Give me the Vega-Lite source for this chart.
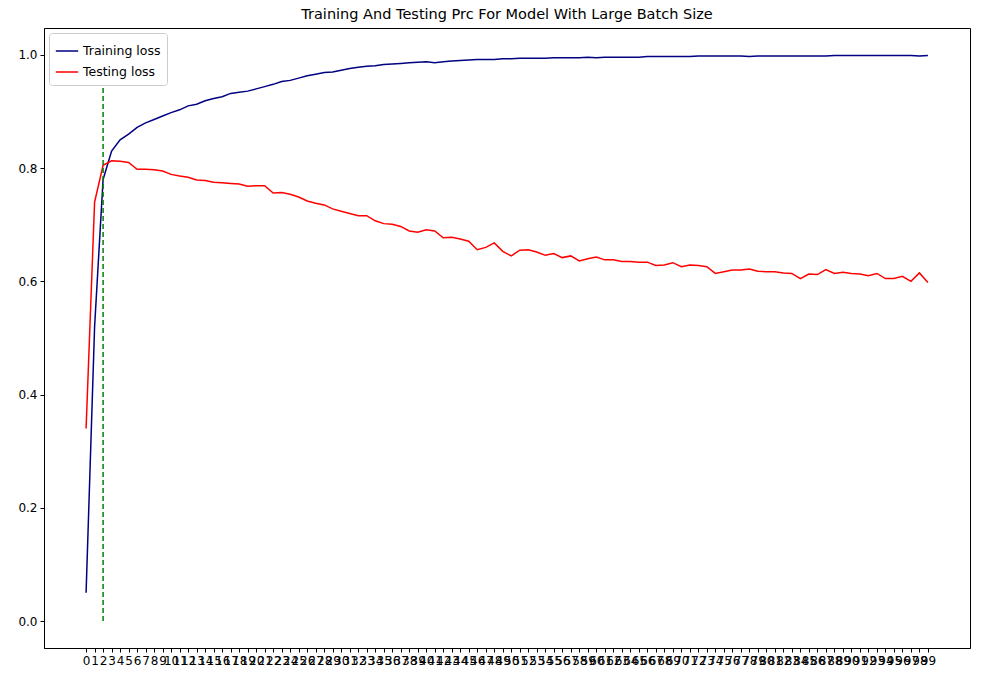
{
  "$schema": "https://vega.github.io/schema/vega-lite/v6.json",
  "width": 926,
  "height": 620,
  "autosize": "none",
  "padding": {"left": 44, "top": 28, "right": 11, "bottom": 32},
  "title": {"text": "Training And Testing Prc For Model With Large Batch Size", "font": "DejaVu Sans", "fontSize": 14.5, "fontWeight": "normal", "offset": 6},
  "datasets": {
    "rows": [
      {"epoch":0,"Training loss":0.05,"Testing loss":0.34},{"epoch":1,"Training loss":0.52,"Testing loss":0.74},{"epoch":2,"Training loss":0.78,"Testing loss":0.805},{"epoch":3,"Training loss":0.83,"Testing loss":0.813},{"epoch":4,"Training loss":0.85,"Testing loss":0.812},{"epoch":5,"Training loss":0.86,"Testing loss":0.81},{"epoch":6,"Training loss":0.872,"Testing loss":0.798},{"epoch":7,"Training loss":0.88,"Testing loss":0.798},{"epoch":8,"Training loss":0.886,"Testing loss":0.797},{"epoch":9,"Training loss":0.892,"Testing loss":0.795},
      {"epoch":10,"Training loss":0.898,"Testing loss":0.789},{"epoch":11,"Training loss":0.903,"Testing loss":0.786},{"epoch":12,"Training loss":0.91,"Testing loss":0.784},{"epoch":13,"Training loss":0.913,"Testing loss":0.779},{"epoch":14,"Training loss":0.919,"Testing loss":0.778},{"epoch":15,"Training loss":0.923,"Testing loss":0.775},{"epoch":16,"Training loss":0.926,"Testing loss":0.774},{"epoch":17,"Training loss":0.932,"Testing loss":0.773},{"epoch":18,"Training loss":0.934,"Testing loss":0.772},{"epoch":19,"Training loss":0.936,"Testing loss":0.768},
      {"epoch":20,"Training loss":0.94,"Testing loss":0.769},{"epoch":21,"Training loss":0.944,"Testing loss":0.769},{"epoch":22,"Training loss":0.948,"Testing loss":0.756},{"epoch":23,"Training loss":0.953,"Testing loss":0.757},{"epoch":24,"Training loss":0.955,"Testing loss":0.754},{"epoch":25,"Training loss":0.959,"Testing loss":0.749},{"epoch":26,"Training loss":0.963,"Testing loss":0.742},{"epoch":27,"Training loss":0.966,"Testing loss":0.738},{"epoch":28,"Training loss":0.969,"Testing loss":0.735},{"epoch":29,"Training loss":0.97,"Testing loss":0.728},
      {"epoch":30,"Training loss":0.973,"Testing loss":0.724},{"epoch":31,"Training loss":0.976,"Testing loss":0.72},{"epoch":32,"Training loss":0.978,"Testing loss":0.716},{"epoch":33,"Training loss":0.98,"Testing loss":0.716},{"epoch":34,"Training loss":0.981,"Testing loss":0.707},{"epoch":35,"Training loss":0.983,"Testing loss":0.702},{"epoch":36,"Training loss":0.984,"Testing loss":0.701},{"epoch":37,"Training loss":0.985,"Testing loss":0.697},{"epoch":38,"Training loss":0.986,"Testing loss":0.689},{"epoch":39,"Training loss":0.987,"Testing loss":0.687},
      {"epoch":40,"Training loss":0.988,"Testing loss":0.691},{"epoch":41,"Training loss":0.986,"Testing loss":0.689},{"epoch":42,"Training loss":0.988,"Testing loss":0.677},{"epoch":43,"Training loss":0.989,"Testing loss":0.678},{"epoch":44,"Training loss":0.99,"Testing loss":0.675},{"epoch":45,"Training loss":0.991,"Testing loss":0.671},{"epoch":46,"Training loss":0.992,"Testing loss":0.656},{"epoch":47,"Training loss":0.992,"Testing loss":0.66},{"epoch":48,"Training loss":0.992,"Testing loss":0.668},{"epoch":49,"Training loss":0.993,"Testing loss":0.653},
      {"epoch":50,"Training loss":0.993,"Testing loss":0.645},{"epoch":51,"Training loss":0.994,"Testing loss":0.655},{"epoch":52,"Training loss":0.994,"Testing loss":0.656},{"epoch":53,"Training loss":0.994,"Testing loss":0.652},{"epoch":54,"Training loss":0.994,"Testing loss":0.646},{"epoch":55,"Training loss":0.995,"Testing loss":0.649},{"epoch":56,"Training loss":0.995,"Testing loss":0.642},{"epoch":57,"Training loss":0.995,"Testing loss":0.645},{"epoch":58,"Training loss":0.995,"Testing loss":0.636},{"epoch":59,"Training loss":0.996,"Testing loss":0.64},
      {"epoch":60,"Training loss":0.995,"Testing loss":0.643},{"epoch":61,"Training loss":0.996,"Testing loss":0.638},{"epoch":62,"Training loss":0.996,"Testing loss":0.638},{"epoch":63,"Training loss":0.996,"Testing loss":0.635},{"epoch":64,"Training loss":0.996,"Testing loss":0.635},{"epoch":65,"Training loss":0.996,"Testing loss":0.634},{"epoch":66,"Training loss":0.997,"Testing loss":0.634},{"epoch":67,"Training loss":0.997,"Testing loss":0.628},{"epoch":68,"Training loss":0.997,"Testing loss":0.629},{"epoch":69,"Training loss":0.997,"Testing loss":0.633},
      {"epoch":70,"Training loss":0.997,"Testing loss":0.626},{"epoch":71,"Training loss":0.997,"Testing loss":0.629},{"epoch":72,"Training loss":0.998,"Testing loss":0.628},{"epoch":73,"Training loss":0.998,"Testing loss":0.626},{"epoch":74,"Training loss":0.998,"Testing loss":0.614},{"epoch":75,"Training loss":0.998,"Testing loss":0.617},{"epoch":76,"Training loss":0.998,"Testing loss":0.62},{"epoch":77,"Training loss":0.998,"Testing loss":0.62},{"epoch":78,"Training loss":0.997,"Testing loss":0.622},{"epoch":79,"Training loss":0.998,"Testing loss":0.618},
      {"epoch":80,"Training loss":0.998,"Testing loss":0.617},{"epoch":81,"Training loss":0.998,"Testing loss":0.617},{"epoch":82,"Training loss":0.998,"Testing loss":0.615},{"epoch":83,"Training loss":0.998,"Testing loss":0.614},{"epoch":84,"Training loss":0.998,"Testing loss":0.605},{"epoch":85,"Training loss":0.998,"Testing loss":0.613},{"epoch":86,"Training loss":0.998,"Testing loss":0.612},{"epoch":87,"Training loss":0.998,"Testing loss":0.621},{"epoch":88,"Training loss":0.999,"Testing loss":0.614},{"epoch":89,"Training loss":0.999,"Testing loss":0.616},
      {"epoch":90,"Training loss":0.999,"Testing loss":0.614},{"epoch":91,"Training loss":0.999,"Testing loss":0.613},{"epoch":92,"Training loss":0.999,"Testing loss":0.61},{"epoch":93,"Training loss":0.999,"Testing loss":0.614},{"epoch":94,"Training loss":0.999,"Testing loss":0.605},{"epoch":95,"Training loss":0.999,"Testing loss":0.605},{"epoch":96,"Training loss":0.999,"Testing loss":0.609},{"epoch":97,"Training loss":0.999,"Testing loss":0.6},{"epoch":98,"Training loss":0.998,"Testing loss":0.615},{"epoch":99,"Training loss":0.999,"Testing loss":0.598}
    ],
    "marker": [{"epoch": 2, "y0": 0, "y1": 0.97}]
  },
  "encoding": {
    "x": {"field": "epoch", "type": "quantitative", "scale": {"domain": [-4.95, 103.95], "nice": false, "zero": false},
      "axis": {"title": null, "tickCount": 100, "values": [0,1,2,3,4,5,6,7,8,9,10,11,12,13,14,15,16,17,18,19,20,21,22,23,24,25,26,27,28,29,30,31,32,33,34,35,36,37,38,39,40,41,42,43,44,45,46,47,48,49,50,51,52,53,54,55,56,57,58,59,60,61,62,63,64,65,66,67,68,69,70,71,72,73,74,75,76,77,78,79,80,81,82,83,84,85,86,87,88,89,90,91,92,93,94,95,96,97,98,99], "labelOverlap": false, "labelFlush": false, "labelBound": false, "grid": false}}
  },
  "layer": [
    {
      "data": {"name": "rows"},
      "transform": [{"fold": ["Training loss", "Testing loss"], "as": ["series", "loss"]}],
      "mark": {"type": "line", "strokeWidth": 1.5, "clip": true},
      "encoding": {
        "y": {"field": "loss", "type": "quantitative", "scale": {"domain": [-0.0475, 1.0475], "nice": false, "zero": false},
          "axis": {"title": null, "values": [0, 0.2, 0.4, 0.6, 0.8, 1.0], "format": ".1f", "grid": false}},
        "color": {"field": "series", "type": "nominal", "sort": ["Training loss", "Testing loss"],
          "scale": {"domain": ["Training loss", "Testing loss"], "range": ["#000080", "#ff0000"]},
          "legend": {"title": null, "orient": "top-left", "offset": 5, "symbolType": "stroke", "symbolSize": 500, "symbolStrokeWidth": 1.5, "labelFontSize": 12.5, "labelFont": "DejaVu Sans", "strokeColor": "#cccccc", "fillColor": "white", "padding": 6, "cornerRadius": 3}}
      }
    },
    {
      "data": {"name": "marker"},
      "mark": {"type": "rule", "color": "green", "strokeDash": [5, 3], "strokeWidth": 1.5},
      "encoding": {
        "y": {"field": "y0", "type": "quantitative"},
        "y2": {"field": "y1"}
      }
    }
  ],
  "config": {
    "view": {"stroke": "black", "strokeWidth": 1},
    "axis": {"labelFont": "DejaVu Sans", "labelFontSize": 12, "labelColor": "black", "tickColor": "black", "domainColor": "black", "tickSize": 4, "labelPadding": 3}
  }
}
